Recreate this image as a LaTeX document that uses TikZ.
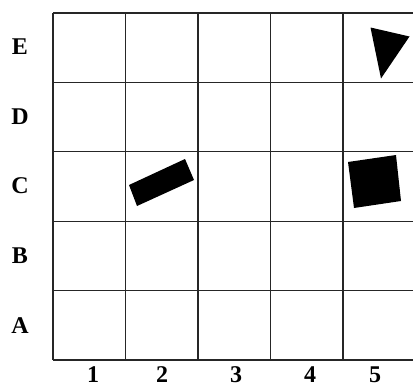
\documentclass[tikz,border=0pt]{standalone}
\usepackage{fontspec}
\setmainfont{Liberation Serif}
\begin{document}
\begin{tikzpicture}[x=1pt,y=-1pt,
  gridline/.style={line width=1.1pt,draw=black!85},
  lab/.style={font=\fontsize{24}{24}\selectfont\bfseries,inner sep=0pt},
  shapefill/.style={fill=black,draw=none}]
\useasboundingbox (0,0) rectangle (413,388);
% vertical lines
\foreach \x in {53,125.5,198,270.5,343} {\draw[gridline] (\x,13) -- (\x,360);}
% horizontal lines
\foreach \y in {13,82.4,151.8,221.2,290.6,360} {\draw[gridline] (53,\y) -- (415,\y);}
% row labels
\node[lab] (rE) at (20,47) {E};
\node[lab] (rD) at (20,117) {D};
\node[lab] (rC) at (20,186) {C};
\node[lab] (rB) at (20,256) {B};
\node[lab] (rA) at (20,326) {A};
% column labels
\node[lab] (c1) at (93,375) {1};
\node[lab] (c2) at (162,375) {2};
\node[lab] (c3) at (236,375) {3};
\node[lab] (c4) at (310,375) {4};
\node[lab] (c5) at (375,375) {5};
% shapes
\fill[shapefill] (370.5,27.5) -- (409.5,36.5) -- (381,78.5) -- cycle;
\fill[shapefill] (129,185) -- (185,159) -- (194,180) -- (137,206) -- cycle;
\fill[shapefill] (348,162) -- (396,155) -- (401,201) -- (354,208) -- cycle;
\end{tikzpicture}
\end{document}
